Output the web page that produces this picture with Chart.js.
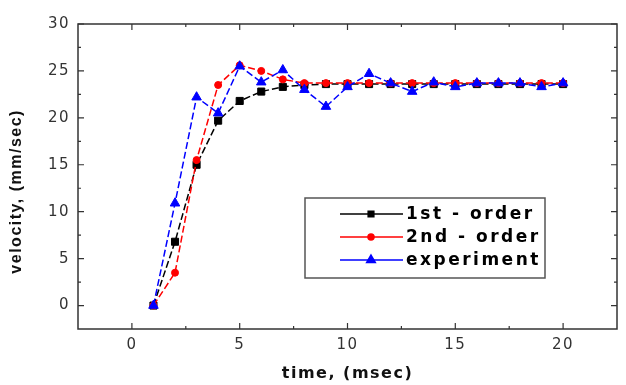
<!DOCTYPE html>
<html>
<head>
<meta charset="utf-8">
<script src="https://cdn.jsdelivr.net/npm/chart.js@4.4.0/dist/chart.umd.min.js"></script>
<style>
  html, body { margin: 0; padding: 0; background: #fff; }
  #wrap { width: 626px; height: 385px; }
</style>
</head>
<body>
<div id="wrap"><canvas id="chart1"></canvas></div>
<script>
// time in msec
const times = [1, 2, 3, 4, 5, 6, 7, 8, 9, 10, 11, 12, 13, 14, 15, 16, 17, 18, 19, 20];
// velocity in mm/sec
const firstOrder = [0, 6.8, 15.0, 19.7, 21.8, 22.8, 23.3, 23.5, 23.6, 23.6, 23.6, 23.6, 23.6, 23.6, 23.6, 23.6, 23.6, 23.6, 23.6, 23.6];
const secondOrder = [0, 3.5, 15.5, 23.5, 25.6, 25.0, 24.1, 23.7, 23.7, 23.7, 23.7, 23.7, 23.7, 23.7, 23.7, 23.7, 23.7, 23.7, 23.7, 23.7];
const experiment = [0, 10.9, 22.2, 20.5, 25.5, 23.8, 25.1, 23.0, 21.2, 23.3, 24.7, 23.7, 22.8, 23.8, 23.3, 23.7, 23.7, 23.7, 23.3, 23.7];

const xTicks = [0, 5, 10, 15, 20];
const yTicks = [0, 5, 10, 15, 20, 25, 30];

function toPoints(vals) {
    return times.map((t, i) => ({ x: t, y: vals[i] }));
}

// moldura, marcas internas e legenda desenhadas à mão
const framePlugin = {
    id: 'framePlugin',
    beforeDraw(chart) {
        chart.ctx.letterSpacing = '1.5px';
    },
    afterDraw(chart) {
        const ctx = chart.ctx;
        const a = chart.chartArea;
        const sx = chart.scales.x;
        const sy = chart.scales.y;
        ctx.save();
        ctx.strokeStyle = '#333';
        ctx.lineWidth = 1.5;
        ctx.strokeRect(a.left, a.top, a.right - a.left, a.bottom - a.top);

        ctx.lineWidth = 1.2;
        const marks = (vals) => {
            const out = [];
            vals.forEach((v, i) => {
                out.push([v, true]);
                if (i < vals.length - 1) out.push([(v + vals[i + 1]) / 2, false]);
            });
            return out;
        };
        ctx.beginPath();
        marks(xTicks).forEach(([v, major]) => {
            const px = sx.getPixelForValue(v);
            const len = major ? 6 : 3;
            ctx.moveTo(px, a.bottom); ctx.lineTo(px, a.bottom - len);
            ctx.moveTo(px, a.top); ctx.lineTo(px, a.top + len);
        });
        marks(yTicks).forEach(([v, major]) => {
            const py = sy.getPixelForValue(v);
            const len = major ? 6 : 3;
            ctx.moveTo(a.left, py); ctx.lineTo(a.left + len, py);
            ctx.moveTo(a.right, py); ctx.lineTo(a.right - len, py);
        });
        ctx.stroke();

        // legenda
        const box = { left: 305, top: 198, width: 240, height: 80 };
        ctx.lineWidth = 1.5;
        ctx.strokeStyle = '#555';
        ctx.strokeRect(box.left, box.top, box.width, box.height);
        ctx.letterSpacing = '2.5px';
        ctx.font = 'bold 17px "DejaVu Sans", sans-serif';
        ctx.textBaseline = 'middle';
        ctx.textAlign = 'left';
        const legendSizes = { rect: 4, circle: 3, triangle: 5 };
        chart.data.datasets.forEach((ds, i) => {
            const y = box.top + 16 + i * 23;
            ctx.strokeStyle = ds.borderColor;
            ctx.lineWidth = 1.5;
            ctx.setLineDash([]);
            ctx.beginPath();
            ctx.moveTo(340, y); ctx.lineTo(403, y);
            ctx.stroke();
            ctx.fillStyle = ds.borderColor;
            Chart.helpers.drawPoint(ctx, { pointStyle: ds.pointStyle, radius: legendSizes[ds.pointStyle], rotation: 0, borderWidth: 1 }, 371, y);
            ctx.fillStyle = '#000';
            ctx.fillText(ds.label, 406, y + 1);
        });
        ctx.restore();
    }
};

new Chart(document.getElementById('chart1'), {
    type: 'line',
    data: {
        datasets: [{
            label: '1st - order',
            data: toPoints(firstOrder),
            borderColor: '#000000',
            backgroundColor: '#000000',
            pointStyle: 'rect',
            pointRadius: 5,
            borderWidth: 1.5,
            borderDash: [7, 3],
            order: 2
        }, {
            label: '2nd - order',
            data: toPoints(secondOrder),
            borderColor: '#ff0000',
            backgroundColor: '#ff0000',
            pointStyle: 'circle',
            pointRadius: 3.5,
            borderWidth: 1.5,
            borderDash: [7, 3],
            order: 1
        }, {
            label: 'experiment',
            data: toPoints(experiment),
            borderColor: '#0000ff',
            backgroundColor: '#0000ff',
            pointStyle: 'triangle',
            pointRadius: 5.5,
            borderWidth: 1.5,
            borderDash: [7, 3],
            order: 0
        }]
    },
    options: {
        responsive: true,
        maintainAspectRatio: false,
        animation: false,
        layout: { padding: { top: 24, right: 9, left: 0, bottom: 0 } },
        plugins: {
            legend: { display: false },
            tooltip: { enabled: false }
        },
        elements: { line: { tension: 0 }, point: { pointBorderWidth: 1 } },
        scales: {
            x: {
                type: 'linear',
                min: -2.5,
                max: 22.5,
                afterBuildTicks: s => { s.ticks = xTicks.map(v => ({ value: v })); },
                afterFit: s => { s.height = 56; },
                grid: { display: false, drawTicks: false },
                border: { display: false },
                ticks: {
                    padding: 7,
                    color: '#333',
                    font: { family: '"DejaVu Sans", sans-serif', size: 15 }
                },
                title: {
                    display: true,
                    text: 'time, (msec)',
                    color: '#111',
                    font: { family: '"DejaVu Sans", sans-serif', size: 16, weight: 'bold' },
                    padding: { top: 0, bottom: 2 }
                }
            },
            y: {
                min: -2.5,
                max: 30,
                afterBuildTicks: s => { s.ticks = yTicks.map(v => ({ value: v })); },
                afterFit: s => { s.width = 78; },
                grid: { display: false, drawTicks: false },
                border: { display: false },
                ticks: {
                    padding: 8,
                    color: '#333',
                    font: { family: '"DejaVu Sans", sans-serif', size: 15 }
                },
                title: {
                    display: true,
                    // espaços finais empurram o texto para baixo, como no original
                    text: 'velocity, (mm/sec)     ',
                    color: '#111',
                    font: { family: '"Liberation Sans", Arial, sans-serif', size: 16, weight: 'bold' },
                    padding: { top: 7, bottom: 0 }
                }
            }
        }
    },
    plugins: [framePlugin]
});
</script>
</body>
</html>
